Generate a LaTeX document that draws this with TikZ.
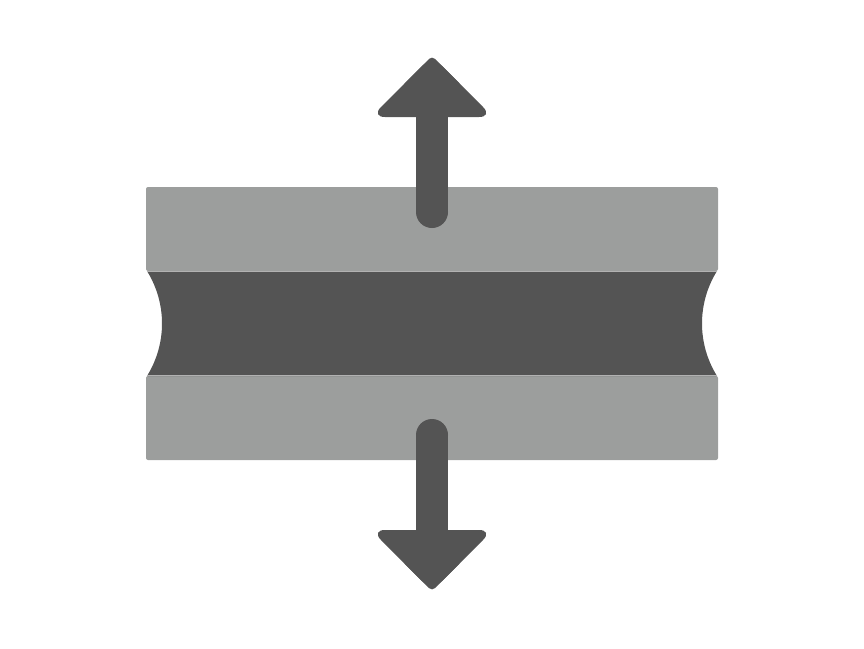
\documentclass[tikz,border=0pt]{standalone}
\usepackage{tikz}
\definecolor{layergray}{HTML}{9C9E9D}
\definecolor{coredark}{HTML}{545454}
\tikzset{
  layer/.style={fill=layergray, draw=none, rounded corners=2pt},
  core/.style={fill=coredark, draw=none},
  arrowfill/.style={fill=coredark, draw=none},
  headfill/.style={fill=coredark, draw=none, rounded corners=14pt},
  tipfill/.style={fill=coredark, draw=none, rounded corners=4pt},
}
\begin{document}
\begin{tikzpicture}[x=1pt,y=-1pt]
\useasboundingbox (0,0) rectangle (864,648);
% outer layers
\path[layer] (146,187) rectangle (718,271);
\path[layer] (146,376) rectangle (718,460);
% core band with concave sides
\path[core] (147,271) -- (717,271)
  .. controls (697,303.2) and (697,343.8) .. (717,376)
  -- (147,376)
  .. controls (167,343.8) and (167,303.2) .. (147,271) -- cycle;
% thin separators
\draw[line width=0.7pt, color=black!30] (147,271.5) -- (717,271.5);
\draw[line width=0.7pt, color=black!30] (147,375.5) -- (717,375.5);
% up arrow
\path[headfill] (432,56) -- (493,117) -- (371,117) -- cycle;
\path[tipfill] (432,56) -- (462,86) -- (402,86) -- cycle;
\path[arrowfill] (416,110) rectangle (448,212);
\path[arrowfill] (432,212) circle[radius=16];
% down arrow
\path[headfill] (432,591) -- (493,530) -- (371,530) -- cycle;
\path[tipfill] (432,591) -- (462,561) -- (402,561) -- cycle;
\path[arrowfill] (416,435) rectangle (448,537);
\path[arrowfill] (432,435) circle[radius=16];
\end{tikzpicture}
\end{document}
